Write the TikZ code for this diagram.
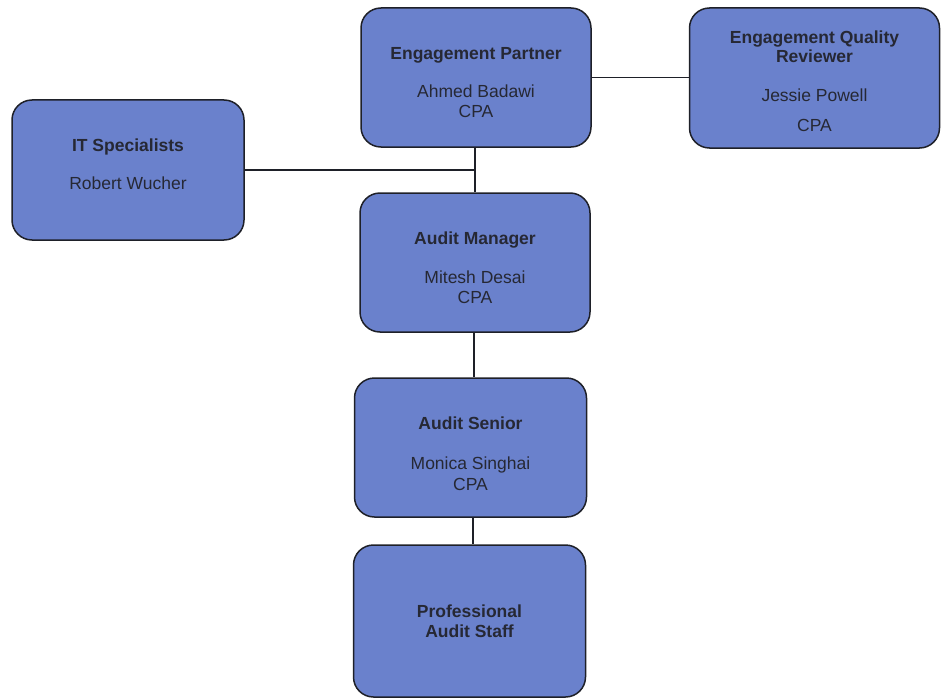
\documentclass[tikz,border=0pt]{standalone}
\usepackage{fontspec}
\setmainfont{Liberation Sans}
\definecolor{boxfill}{RGB}{106,129,204}
\definecolor{boxline}{RGB}{30,32,40}
\definecolor{txt}{RGB}{38,40,52}
\tikzset{
  orgbox/.style={draw=boxline, line width=1.5pt, fill=boxfill, rounded corners=20pt, inner sep=0pt},
  boxtext/.style={align=center, text=txt, inner sep=0pt, font=\fontsize{17.5}{20.5}\selectfont},
  link/.style={draw=boxline, line width=1.4pt}
}
\newcommand{\ttl}[1]{\textbf{#1}}
\begin{document}
\begin{tikzpicture}[x=1pt,y=-1pt]
\useasboundingbox (0,0) rectangle (941,698);
\node[orgbox, minimum width=230pt, minimum height=139pt] (ep) at (476,77.5) {};
\node[orgbox, minimum width=250pt, minimum height=140pt] (eqr) at (814.5,78) {};
\node[orgbox, minimum width=232pt, minimum height=140pt] (it) at (128,170) {};
\node[orgbox, minimum width=230pt, minimum height=139pt] (am) at (475,262.5) {};
\node[orgbox, minimum width=232pt, minimum height=139pt] (as) at (470.5,447.5) {};
\node[orgbox, minimum width=232pt, minimum height=152pt] (pas) at (469.5,621) {};
\node[boxtext] (ep-t) at ([yshift=-5.5pt]ep.center)
  {\ttl{Engagement Partner}\\[17pt]Ahmed Badawi\\CPA};
\node[boxtext] (eqr-t) at ([yshift=-3pt]eqr.center)
  {\ttl{Engagement Quality}\\[-2pt]\ttl{Reviewer}\\[19pt]Jessie Powell\\[9pt]CPA};
\node[boxtext] (it-t) at ([yshift=6pt]it.center)
  {\ttl{IT Specialists}\\[17pt]Robert Wucher};
\node[boxtext] (am-t) at ([yshift=-5.5pt]am.center)
  {\ttl{Audit Manager}\\[18pt]Mitesh Desai\\CPA};
\node[boxtext] (as-t) at ([yshift=-6pt]as.center)
  {\ttl{Audit Senior}\\[20pt]Monica Singhai\\CPA};
\node[boxtext] (pas-t) at (pas.center)
  {\ttl{Professional}\\\ttl{Audit Staff}};
\coordinate (j) at (475,170);
\draw[link] (ep.south -| j) -- (am.north -| j);
\draw[link] (it.east |- j) -- (j);
\draw[link] (ep.east) -- (eqr.west |- ep.east);
\draw[link] (am.south -| 474,0) -- (as.north -| 474,0);
\draw[link] (as.south -| 473,0) -- (pas.north -| 473,0);
\end{tikzpicture}
\end{document}
